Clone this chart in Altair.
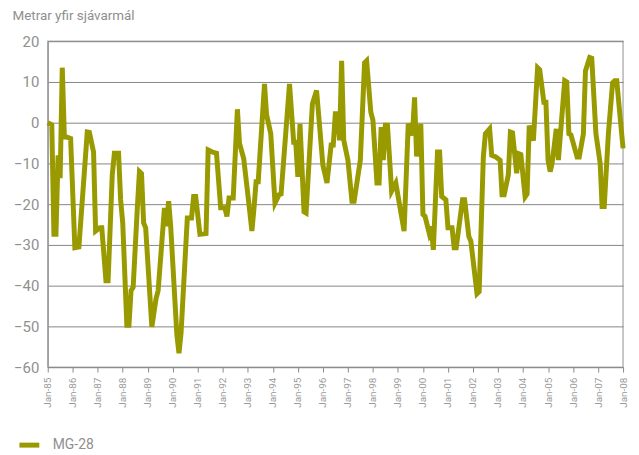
import altair as alt
import pandas as pd

# Month offsets from Jan 1985 and the water level (metres above sea level) read at each
month_index = [
    0, 2, 3, 4, 5, 6, 7, 8, 9, 11,
    13, 15, 19, 20, 22, 23,
    25, 26, 28, 29, 31, 32, 34, 35,
    36, 38, 39, 40, 41, 43, 44, 45, 46, 47,
    50, 52, 53, 56, 57, 58, 59,
    62, 63, 64, 67, 69, 70, 71,
    73, 76, 77, 79, 81, 83,
    85, 86, 87, 89, 91, 92, 94,
    96, 98, 99, 100, 101, 104, 105, 107,
    109, 111, 112, 116, 118, 119,
    120, 121, 123, 124, 127, 129, 130,
    132, 134, 136, 137, 138, 139, 140, 141, 142,
    144, 146, 147, 150, 152, 153, 155,
    156, 158, 159, 160, 161, 162, 163, 165, 167,
    171, 173, 175, 176, 177, 179,
    180, 181, 183, 184, 185, 187, 188, 189, 191,
    192, 194, 195, 196, 199, 200, 202, 203,
    206, 207, 209, 210, 212, 213, 215,
    217, 218, 219, 221, 222, 223, 225, 226, 227,
    229, 230, 231, 233, 235, 236, 238, 239,
    240, 241, 242, 244, 245, 248, 249, 250, 251,
    254, 255, 257, 258, 260, 261, 263,
    265, 266, 267, 269, 271, 272, 273, 276,
]
level = [
    0, -0.5, -27.4, -27.4, -8, -13.6, 13.5, -3.5, -3.5, -3.9,
    -30.7, -30.5, -2.3, -2.4, -7.2, -26.6,
    -25.8, -25.8, -38.8, -38.8, -12.8, -7.5, -7.5, -18.9,
    -24.6, -49.7, -49.7, -41.2, -40.4, -20.9, -12, -12.5, -24.6, -25.8,
    -50.1, -43.2, -41.2, -20.9, -25.4, -19.3, -25.4,
    -52, -56.6, -51.7, -23.4, -23.4, -18.1, -18.1,
    -27.4, -27.2, -6.7, -7.2, -7.5, -20.9,
    -20.9, -23, -18.5, -18.5, 3.3, -5.1, -8.8,
    -17.7, -26.6, -20.9, -14.5, -14.5, 9.5, 2, -2.7,
    -19.7, -17.7, -17.5, 9.5, -4.8, -4.8,
    -13.3, -0.3, -21.9, -22.2, 4.6, 7.9, 1.8,
    -10.4, -14.8, -5.5, -5.5, 2.2, 2.2, -4.3, 15.2, -4.3,
    -9.2, -19.3, -19.3, -9.2, 14.7, 15.2, 2.6,
    0.6, -14.8, -14.8, -1.1, -9.2, -0.6, -0.6, -16.8, -14.8,
    -26.6, -0.2, -3.1, 6.2, -8.3, -0.3,
    -22.5, -23, -27.1, -25.5, -31.2, -7.2, -7.2, -18.1, -18.9,
    -25.8, -25.8, -30.7, -30.7, -18.9, -18.9, -27.9, -29.1,
    -42, -41.5, -8.4, -2.7, -1.5, -8, -8.4,
    -9.2, -17.7, -17.7, -12.8, -2.3, -2.5, -12.4, -7.6, -7.8,
    -18.2, -17.5, -0.7, -4.4, 13.5, 13, 5, 5,
    -9.2, -12, -10, -1.5, -9.2, 10.3, 10, -2.7, -3,
    -8.4, -8.4, -2.7, 12.7, 16, 15.8, -2.7,
    -10, -20.6, -20.6, -2.7, 9.8, 10.3, 10.3, -6.3,
]
series_name = "MG-28"
y_title = "Metrar yfir sjávarmál"
year_ticks = list(range(1985, 2009))
y_ticks = list(range(-60, 30, 10))

assert len(month_index) == len(level)

base = pd.Timestamp("1985-01-01")
dates = [(base + pd.DateOffset(months=m)).strftime("%Y-%m-%dT00:00:00") for m in month_index]
df = pd.DataFrame({"date": dates, "level": level, "series": series_name})

grey = "#8f8f8f"
font = "Roboto"

chart = (
    alt.Chart(df)
    .mark_line(strokeWidth=5)
    .encode(
        x=alt.X(
            "date:T",
            scale=alt.Scale(
                domain=[
                    alt.DateTime(year=1985, month=1, date=1),
                    alt.DateTime(year=2008, month=1, date=1),
                ]
            ),
            axis=alt.Axis(
                values=[alt.DateTime(year=y, month=1, date=1) for y in year_ticks],
                format="%b-%y",
                labelAngle=270,
                labelFontSize=10,
                labelColor="#9a9a9a",
                labelFont=font,
                labelPadding=5,
                title=None,
                grid=False,
                domainColor="#8a8a8a",
                tickColor="#8a8a8a",
                tickSize=5,
                labelOverlap=False,
            ),
        ),
        y=alt.Y(
            "level:Q",
            scale=alt.Scale(domain=[-60, 20], nice=False),
            axis=alt.Axis(
                values=y_ticks,
                title=y_title,
                titleAngle=0,
                titleX=-36,
                titleY=-26,
                titleAlign="left",
                titleBaseline="middle",
                titleFontSize=13.5,
                titleFontWeight="normal",
                titleColor=grey,
                titleFont=font,
                labelFontSize=15,
                labelColor=grey,
                labelFont=font,
                labelPadding=9,
                ticks=False,
                grid=True,
                gridColor="#858585",
                gridWidth=1,
                domainColor="#8a8a8a",
            ),
        ),
        color=alt.Color(
            "series:N",
            scale=alt.Scale(range=["#999900"]),
            legend=alt.Legend(
                title=None,
                orient="none",
                legendX=-31,
                legendY=394,
                symbolType="stroke",
                symbolStrokeWidth=5,
                symbolSize=400,
                labelFontSize=14,
                labelColor=grey,
                labelFont=font,
                labelOffset=11,
                padding=0,
            ),
        ),
    )
    .properties(
        width=579,
        height=328,
        autosize=alt.AutoSizeParams(type="none"),
        padding={"left": 40, "top": 32, "right": 8, "bottom": 86},
    )
    .configure_view(stroke="#b5b5b5", strokeWidth=1.5)
)

chart.save("out.html", embed_options={"renderer": "svg", "actions": False})
